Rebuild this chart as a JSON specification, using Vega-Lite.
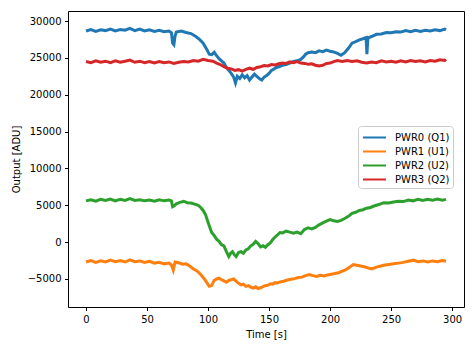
{
"$schema": "https://vega.github.io/schema/vega-lite/v6.json",
"width": 396, "height": 296,
"autosize": "none",
"padding": {"left": 68, "top": 11, "right": 11, "bottom": 40},
"background": "white",
"config": {
  "view": {"stroke": "black", "strokeWidth": 1},
  "font": "DejaVu Sans",
  "axis": {"domain": false, "grid": false, "tickColor": "black", "tickSize": 3.5, "labelColor": "#000000", "labelFontSize": 10, "labelFont": "DejaVu Sans", "titleFont": "DejaVu Sans", "titleFontSize": 10, "titleFontWeight": "normal", "titleColor": "#000000", "labelPadding": 3.5}
},
"datasets": {
"d": [
{"s":"PWR0 (Q1)","t":0,"v":28650},{"s":"PWR0 (Q1)","t":4,"v":28850},{"s":"PWR0 (Q1)","t":8,"v":28600},{"s":"PWR0 (Q1)","t":12,"v":28800},{"s":"PWR0 (Q1)","t":16,"v":28700},{"s":"PWR0 (Q1)","t":20,"v":28900},{"s":"PWR0 (Q1)","t":24,"v":28650},{"s":"PWR0 (Q1)","t":28,"v":28850},{"s":"PWR0 (Q1)","t":32,"v":28750},{"s":"PWR0 (Q1)","t":36,"v":29000},{"s":"PWR0 (Q1)","t":40,"v":28700},{"s":"PWR0 (Q1)","t":44,"v":28900},{"s":"PWR0 (Q1)","t":48,"v":28650},{"s":"PWR0 (Q1)","t":52,"v":28800},{"s":"PWR0 (Q1)","t":56,"v":28600},{"s":"PWR0 (Q1)","t":60,"v":28750},{"s":"PWR0 (Q1)","t":64,"v":28550},{"s":"PWR0 (Q1)","t":68,"v":28650},{"s":"PWR0 (Q1)","t":70,"v":28400},{"s":"PWR0 (Q1)","t":71,"v":27000},{"s":"PWR0 (Q1)","t":72,"v":26800},{"s":"PWR0 (Q1)","t":73,"v":28000},{"s":"PWR0 (Q1)","t":74,"v":28500},{"s":"PWR0 (Q1)","t":78,"v":28650},{"s":"PWR0 (Q1)","t":82,"v":28450},{"s":"PWR0 (Q1)","t":86,"v":28300},{"s":"PWR0 (Q1)","t":90,"v":27900},{"s":"PWR0 (Q1)","t":93,"v":27500},{"s":"PWR0 (Q1)","t":96,"v":27000},{"s":"PWR0 (Q1)","t":99,"v":26150},{"s":"PWR0 (Q1)","t":101,"v":25500},{"s":"PWR0 (Q1)","t":103,"v":25450},{"s":"PWR0 (Q1)","t":105,"v":25750},{"s":"PWR0 (Q1)","t":107,"v":25300},{"s":"PWR0 (Q1)","t":109,"v":24900},{"s":"PWR0 (Q1)","t":111,"v":24600},{"s":"PWR0 (Q1)","t":113,"v":24300},{"s":"PWR0 (Q1)","t":115,"v":23700},{"s":"PWR0 (Q1)","t":117,"v":23300},{"s":"PWR0 (Q1)","t":119,"v":22900},{"s":"PWR0 (Q1)","t":121,"v":22400},{"s":"PWR0 (Q1)","t":122.5,"v":21600},{"s":"PWR0 (Q1)","t":124,"v":22500},{"s":"PWR0 (Q1)","t":126,"v":22200},{"s":"PWR0 (Q1)","t":128,"v":22700},{"s":"PWR0 (Q1)","t":130,"v":22300},{"s":"PWR0 (Q1)","t":132,"v":22600},{"s":"PWR0 (Q1)","t":134,"v":22000},{"s":"PWR0 (Q1)","t":136,"v":22400},{"s":"PWR0 (Q1)","t":138,"v":22800},{"s":"PWR0 (Q1)","t":140,"v":22500},{"s":"PWR0 (Q1)","t":142,"v":22200},{"s":"PWR0 (Q1)","t":144,"v":22000},{"s":"PWR0 (Q1)","t":146,"v":22400},{"s":"PWR0 (Q1)","t":148,"v":22600},{"s":"PWR0 (Q1)","t":150,"v":22900},{"s":"PWR0 (Q1)","t":152,"v":23300},{"s":"PWR0 (Q1)","t":154,"v":23500},{"s":"PWR0 (Q1)","t":156,"v":23700},{"s":"PWR0 (Q1)","t":158,"v":23800},{"s":"PWR0 (Q1)","t":161,"v":24000},{"s":"PWR0 (Q1)","t":164,"v":24100},{"s":"PWR0 (Q1)","t":167,"v":24300},{"s":"PWR0 (Q1)","t":170,"v":24500},{"s":"PWR0 (Q1)","t":173,"v":24600},{"s":"PWR0 (Q1)","t":176,"v":24800},{"s":"PWR0 (Q1)","t":178,"v":25100},{"s":"PWR0 (Q1)","t":180,"v":25500},{"s":"PWR0 (Q1)","t":182,"v":25700},{"s":"PWR0 (Q1)","t":185,"v":25800},{"s":"PWR0 (Q1)","t":188,"v":25700},{"s":"PWR0 (Q1)","t":191,"v":25950},{"s":"PWR0 (Q1)","t":194,"v":25850},{"s":"PWR0 (Q1)","t":197,"v":26050},{"s":"PWR0 (Q1)","t":200,"v":25900},{"s":"PWR0 (Q1)","t":203,"v":25800},{"s":"PWR0 (Q1)","t":206,"v":25600},{"s":"PWR0 (Q1)","t":209,"v":25350},{"s":"PWR0 (Q1)","t":212,"v":25700},{"s":"PWR0 (Q1)","t":215,"v":26300},{"s":"PWR0 (Q1)","t":218,"v":27000},{"s":"PWR0 (Q1)","t":221,"v":27200},{"s":"PWR0 (Q1)","t":224,"v":27450},{"s":"PWR0 (Q1)","t":227,"v":27600},{"s":"PWR0 (Q1)","t":229.5,"v":27750},{"s":"PWR0 (Q1)","t":230.2,"v":25500},{"s":"PWR0 (Q1)","t":231,"v":27700},{"s":"PWR0 (Q1)","t":234,"v":27900},{"s":"PWR0 (Q1)","t":238,"v":28200},{"s":"PWR0 (Q1)","t":242,"v":28250},{"s":"PWR0 (Q1)","t":246,"v":28450},{"s":"PWR0 (Q1)","t":250,"v":28400},{"s":"PWR0 (Q1)","t":254,"v":28550},{"s":"PWR0 (Q1)","t":258,"v":28500},{"s":"PWR0 (Q1)","t":262,"v":28700},{"s":"PWR0 (Q1)","t":266,"v":28550},{"s":"PWR0 (Q1)","t":270,"v":28750},{"s":"PWR0 (Q1)","t":274,"v":28600},{"s":"PWR0 (Q1)","t":278,"v":28750},{"s":"PWR0 (Q1)","t":282,"v":28650},{"s":"PWR0 (Q1)","t":286,"v":28800},{"s":"PWR0 (Q1)","t":290,"v":28700},{"s":"PWR0 (Q1)","t":294,"v":28900},{"s":"PWR0 (Q1)","t":295,"v":28800},
{"s":"PWR1 (U1)","t":0,"v":-2700},{"s":"PWR1 (U1)","t":4,"v":-2500},{"s":"PWR1 (U1)","t":8,"v":-2750},{"s":"PWR1 (U1)","t":12,"v":-2550},{"s":"PWR1 (U1)","t":16,"v":-2700},{"s":"PWR1 (U1)","t":20,"v":-2450},{"s":"PWR1 (U1)","t":24,"v":-2650},{"s":"PWR1 (U1)","t":28,"v":-2500},{"s":"PWR1 (U1)","t":32,"v":-2700},{"s":"PWR1 (U1)","t":36,"v":-2400},{"s":"PWR1 (U1)","t":40,"v":-2650},{"s":"PWR1 (U1)","t":44,"v":-2550},{"s":"PWR1 (U1)","t":48,"v":-2750},{"s":"PWR1 (U1)","t":52,"v":-2600},{"s":"PWR1 (U1)","t":56,"v":-2850},{"s":"PWR1 (U1)","t":60,"v":-2750},{"s":"PWR1 (U1)","t":64,"v":-2950},{"s":"PWR1 (U1)","t":68,"v":-2850},{"s":"PWR1 (U1)","t":70,"v":-3100},{"s":"PWR1 (U1)","t":71.5,"v":-3800},{"s":"PWR1 (U1)","t":73,"v":-2700},{"s":"PWR1 (U1)","t":76,"v":-2800},{"s":"PWR1 (U1)","t":79,"v":-3000},{"s":"PWR1 (U1)","t":82,"v":-2950},{"s":"PWR1 (U1)","t":85,"v":-3250},{"s":"PWR1 (U1)","t":88,"v":-3650},{"s":"PWR1 (U1)","t":91,"v":-3900},{"s":"PWR1 (U1)","t":94,"v":-4400},{"s":"PWR1 (U1)","t":97,"v":-5000},{"s":"PWR1 (U1)","t":99,"v":-5500},{"s":"PWR1 (U1)","t":101,"v":-6000},{"s":"PWR1 (U1)","t":103,"v":-5900},{"s":"PWR1 (U1)","t":105,"v":-5200},{"s":"PWR1 (U1)","t":107,"v":-5000},{"s":"PWR1 (U1)","t":109,"v":-4900},{"s":"PWR1 (U1)","t":111,"v":-5100},{"s":"PWR1 (U1)","t":113,"v":-5250},{"s":"PWR1 (U1)","t":115,"v":-5450},{"s":"PWR1 (U1)","t":117,"v":-5200},{"s":"PWR1 (U1)","t":119,"v":-5100},{"s":"PWR1 (U1)","t":121,"v":-5000},{"s":"PWR1 (U1)","t":123,"v":-5300},{"s":"PWR1 (U1)","t":125,"v":-5600},{"s":"PWR1 (U1)","t":127,"v":-5800},{"s":"PWR1 (U1)","t":129,"v":-5700},{"s":"PWR1 (U1)","t":131,"v":-6000},{"s":"PWR1 (U1)","t":133,"v":-5900},{"s":"PWR1 (U1)","t":135,"v":-6100},{"s":"PWR1 (U1)","t":137,"v":-6250},{"s":"PWR1 (U1)","t":139,"v":-6050},{"s":"PWR1 (U1)","t":141,"v":-6300},{"s":"PWR1 (U1)","t":143,"v":-6200},{"s":"PWR1 (U1)","t":145,"v":-6050},{"s":"PWR1 (U1)","t":147,"v":-5900},{"s":"PWR1 (U1)","t":149,"v":-5850},{"s":"PWR1 (U1)","t":151,"v":-5650},{"s":"PWR1 (U1)","t":153,"v":-5700},{"s":"PWR1 (U1)","t":155,"v":-5500},{"s":"PWR1 (U1)","t":157,"v":-5550},{"s":"PWR1 (U1)","t":159,"v":-5400},{"s":"PWR1 (U1)","t":162,"v":-5300},{"s":"PWR1 (U1)","t":165,"v":-5150},{"s":"PWR1 (U1)","t":168,"v":-5050},{"s":"PWR1 (U1)","t":171,"v":-4950},{"s":"PWR1 (U1)","t":174,"v":-4800},{"s":"PWR1 (U1)","t":177,"v":-4750},{"s":"PWR1 (U1)","t":180,"v":-4550},{"s":"PWR1 (U1)","t":183,"v":-4400},{"s":"PWR1 (U1)","t":186,"v":-4550},{"s":"PWR1 (U1)","t":189,"v":-4650},{"s":"PWR1 (U1)","t":192,"v":-4500},{"s":"PWR1 (U1)","t":195,"v":-4600},{"s":"PWR1 (U1)","t":198,"v":-4450},{"s":"PWR1 (U1)","t":201,"v":-4350},{"s":"PWR1 (U1)","t":204,"v":-4250},{"s":"PWR1 (U1)","t":207,"v":-4150},{"s":"PWR1 (U1)","t":210,"v":-3950},{"s":"PWR1 (U1)","t":213,"v":-3750},{"s":"PWR1 (U1)","t":216,"v":-3400},{"s":"PWR1 (U1)","t":219,"v":-3050},{"s":"PWR1 (U1)","t":222,"v":-3150},{"s":"PWR1 (U1)","t":225,"v":-3250},{"s":"PWR1 (U1)","t":228,"v":-3350},{"s":"PWR1 (U1)","t":231,"v":-3500},{"s":"PWR1 (U1)","t":234,"v":-3650},{"s":"PWR1 (U1)","t":237,"v":-3450},{"s":"PWR1 (U1)","t":240,"v":-3300},{"s":"PWR1 (U1)","t":244,"v":-3150},{"s":"PWR1 (U1)","t":248,"v":-3050},{"s":"PWR1 (U1)","t":252,"v":-2950},{"s":"PWR1 (U1)","t":256,"v":-2850},{"s":"PWR1 (U1)","t":260,"v":-2750},{"s":"PWR1 (U1)","t":264,"v":-2600},{"s":"PWR1 (U1)","t":268,"v":-2450},{"s":"PWR1 (U1)","t":272,"v":-2650},{"s":"PWR1 (U1)","t":276,"v":-2550},{"s":"PWR1 (U1)","t":280,"v":-2700},{"s":"PWR1 (U1)","t":284,"v":-2550},{"s":"PWR1 (U1)","t":288,"v":-2650},{"s":"PWR1 (U1)","t":292,"v":-2500},{"s":"PWR1 (U1)","t":295,"v":-2600},
{"s":"PWR2 (U2)","t":0,"v":5600},{"s":"PWR2 (U2)","t":4,"v":5750},{"s":"PWR2 (U2)","t":8,"v":5550},{"s":"PWR2 (U2)","t":12,"v":5800},{"s":"PWR2 (U2)","t":16,"v":5650},{"s":"PWR2 (U2)","t":20,"v":5850},{"s":"PWR2 (U2)","t":24,"v":5600},{"s":"PWR2 (U2)","t":28,"v":5800},{"s":"PWR2 (U2)","t":32,"v":5650},{"s":"PWR2 (U2)","t":36,"v":5900},{"s":"PWR2 (U2)","t":40,"v":5650},{"s":"PWR2 (U2)","t":44,"v":5750},{"s":"PWR2 (U2)","t":48,"v":5600},{"s":"PWR2 (U2)","t":52,"v":5700},{"s":"PWR2 (U2)","t":56,"v":5550},{"s":"PWR2 (U2)","t":60,"v":5750},{"s":"PWR2 (U2)","t":64,"v":5600},{"s":"PWR2 (U2)","t":68,"v":5700},{"s":"PWR2 (U2)","t":70,"v":5600},{"s":"PWR2 (U2)","t":71,"v":4800},{"s":"PWR2 (U2)","t":72,"v":4900},{"s":"PWR2 (U2)","t":74,"v":5200},{"s":"PWR2 (U2)","t":77,"v":5400},{"s":"PWR2 (U2)","t":80,"v":5550},{"s":"PWR2 (U2)","t":83,"v":5350},{"s":"PWR2 (U2)","t":86,"v":5300},{"s":"PWR2 (U2)","t":89,"v":5150},{"s":"PWR2 (U2)","t":92,"v":5000},{"s":"PWR2 (U2)","t":94,"v":4700},{"s":"PWR2 (U2)","t":96,"v":4300},{"s":"PWR2 (U2)","t":98,"v":3700},{"s":"PWR2 (U2)","t":100,"v":2700},{"s":"PWR2 (U2)","t":101.5,"v":2000},{"s":"PWR2 (U2)","t":103,"v":1300},{"s":"PWR2 (U2)","t":105,"v":900},{"s":"PWR2 (U2)","t":107,"v":400},{"s":"PWR2 (U2)","t":109,"v":100},{"s":"PWR2 (U2)","t":111,"v":-350},{"s":"PWR2 (U2)","t":113,"v":-500},{"s":"PWR2 (U2)","t":115,"v":-1250},{"s":"PWR2 (U2)","t":117,"v":-1950},{"s":"PWR2 (U2)","t":118.5,"v":-1500},{"s":"PWR2 (U2)","t":120,"v":-1300},{"s":"PWR2 (U2)","t":121.5,"v":-1700},{"s":"PWR2 (U2)","t":123,"v":-1950},{"s":"PWR2 (U2)","t":125,"v":-1400},{"s":"PWR2 (U2)","t":127,"v":-1300},{"s":"PWR2 (U2)","t":129,"v":-1500},{"s":"PWR2 (U2)","t":131,"v":-1050},{"s":"PWR2 (U2)","t":133,"v":-900},{"s":"PWR2 (U2)","t":135,"v":-500},{"s":"PWR2 (U2)","t":137,"v":-300},{"s":"PWR2 (U2)","t":139,"v":100},{"s":"PWR2 (U2)","t":141,"v":-200},{"s":"PWR2 (U2)","t":143,"v":-650},{"s":"PWR2 (U2)","t":145,"v":-500},{"s":"PWR2 (U2)","t":147,"v":-700},{"s":"PWR2 (U2)","t":149,"v":-350},{"s":"PWR2 (U2)","t":151,"v":-100},{"s":"PWR2 (U2)","t":153,"v":350},{"s":"PWR2 (U2)","t":155,"v":700},{"s":"PWR2 (U2)","t":157,"v":1000},{"s":"PWR2 (U2)","t":159,"v":1300},{"s":"PWR2 (U2)","t":161,"v":1250},{"s":"PWR2 (U2)","t":164,"v":1500},{"s":"PWR2 (U2)","t":167,"v":1350},{"s":"PWR2 (U2)","t":170,"v":1200},{"s":"PWR2 (U2)","t":173,"v":1350},{"s":"PWR2 (U2)","t":176,"v":1150},{"s":"PWR2 (U2)","t":179,"v":1700},{"s":"PWR2 (U2)","t":182,"v":1950},{"s":"PWR2 (U2)","t":185,"v":1800},{"s":"PWR2 (U2)","t":188,"v":2000},{"s":"PWR2 (U2)","t":191,"v":2350},{"s":"PWR2 (U2)","t":194,"v":2600},{"s":"PWR2 (U2)","t":197,"v":2850},{"s":"PWR2 (U2)","t":200,"v":3050},{"s":"PWR2 (U2)","t":203,"v":2900},{"s":"PWR2 (U2)","t":206,"v":2800},{"s":"PWR2 (U2)","t":209,"v":2950},{"s":"PWR2 (U2)","t":212,"v":3200},{"s":"PWR2 (U2)","t":215,"v":3500},{"s":"PWR2 (U2)","t":218,"v":3900},{"s":"PWR2 (U2)","t":221,"v":4050},{"s":"PWR2 (U2)","t":224,"v":4300},{"s":"PWR2 (U2)","t":227,"v":4400},{"s":"PWR2 (U2)","t":230,"v":4600},{"s":"PWR2 (U2)","t":233,"v":4700},{"s":"PWR2 (U2)","t":236,"v":4900},{"s":"PWR2 (U2)","t":240,"v":5100},{"s":"PWR2 (U2)","t":244,"v":5350},{"s":"PWR2 (U2)","t":248,"v":5300},{"s":"PWR2 (U2)","t":252,"v":5450},{"s":"PWR2 (U2)","t":256,"v":5550},{"s":"PWR2 (U2)","t":260,"v":5500},{"s":"PWR2 (U2)","t":264,"v":5700},{"s":"PWR2 (U2)","t":268,"v":5600},{"s":"PWR2 (U2)","t":272,"v":5800},{"s":"PWR2 (U2)","t":276,"v":5650},{"s":"PWR2 (U2)","t":280,"v":5800},{"s":"PWR2 (U2)","t":284,"v":5700},{"s":"PWR2 (U2)","t":288,"v":5850},{"s":"PWR2 (U2)","t":292,"v":5700},{"s":"PWR2 (U2)","t":295,"v":5800},
{"s":"PWR3 (Q2)","t":0,"v":24500},{"s":"PWR3 (Q2)","t":4,"v":24350},{"s":"PWR3 (Q2)","t":8,"v":24600},{"s":"PWR3 (Q2)","t":12,"v":24400},{"s":"PWR3 (Q2)","t":16,"v":24550},{"s":"PWR3 (Q2)","t":20,"v":24350},{"s":"PWR3 (Q2)","t":24,"v":24600},{"s":"PWR3 (Q2)","t":28,"v":24400},{"s":"PWR3 (Q2)","t":32,"v":24550},{"s":"PWR3 (Q2)","t":36,"v":24700},{"s":"PWR3 (Q2)","t":40,"v":24400},{"s":"PWR3 (Q2)","t":44,"v":24550},{"s":"PWR3 (Q2)","t":48,"v":24350},{"s":"PWR3 (Q2)","t":52,"v":24500},{"s":"PWR3 (Q2)","t":56,"v":24300},{"s":"PWR3 (Q2)","t":60,"v":24500},{"s":"PWR3 (Q2)","t":64,"v":24350},{"s":"PWR3 (Q2)","t":68,"v":24450},{"s":"PWR3 (Q2)","t":72,"v":24250},{"s":"PWR3 (Q2)","t":76,"v":24400},{"s":"PWR3 (Q2)","t":80,"v":24500},{"s":"PWR3 (Q2)","t":84,"v":24450},{"s":"PWR3 (Q2)","t":88,"v":24650},{"s":"PWR3 (Q2)","t":92,"v":24550},{"s":"PWR3 (Q2)","t":96,"v":24800},{"s":"PWR3 (Q2)","t":100,"v":24650},{"s":"PWR3 (Q2)","t":104,"v":24550},{"s":"PWR3 (Q2)","t":107,"v":24300},{"s":"PWR3 (Q2)","t":110,"v":24100},{"s":"PWR3 (Q2)","t":113,"v":23800},{"s":"PWR3 (Q2)","t":116,"v":23600},{"s":"PWR3 (Q2)","t":119,"v":23500},{"s":"PWR3 (Q2)","t":122,"v":23300},{"s":"PWR3 (Q2)","t":125,"v":23400},{"s":"PWR3 (Q2)","t":128,"v":23200},{"s":"PWR3 (Q2)","t":131,"v":23450},{"s":"PWR3 (Q2)","t":134,"v":23600},{"s":"PWR3 (Q2)","t":137,"v":23450},{"s":"PWR3 (Q2)","t":140,"v":23700},{"s":"PWR3 (Q2)","t":143,"v":23800},{"s":"PWR3 (Q2)","t":146,"v":23950},{"s":"PWR3 (Q2)","t":149,"v":23900},{"s":"PWR3 (Q2)","t":152,"v":24100},{"s":"PWR3 (Q2)","t":155,"v":24050},{"s":"PWR3 (Q2)","t":158,"v":24200},{"s":"PWR3 (Q2)","t":161,"v":24300},{"s":"PWR3 (Q2)","t":164,"v":24250},{"s":"PWR3 (Q2)","t":167,"v":24450},{"s":"PWR3 (Q2)","t":170,"v":24350},{"s":"PWR3 (Q2)","t":173,"v":24500},{"s":"PWR3 (Q2)","t":176,"v":24300},{"s":"PWR3 (Q2)","t":179,"v":24250},{"s":"PWR3 (Q2)","t":182,"v":24150},{"s":"PWR3 (Q2)","t":185,"v":24200},{"s":"PWR3 (Q2)","t":188,"v":24000},{"s":"PWR3 (Q2)","t":191,"v":23900},{"s":"PWR3 (Q2)","t":194,"v":24000},{"s":"PWR3 (Q2)","t":197,"v":24250},{"s":"PWR3 (Q2)","t":200,"v":24300},{"s":"PWR3 (Q2)","t":203,"v":24500},{"s":"PWR3 (Q2)","t":206,"v":24650},{"s":"PWR3 (Q2)","t":210,"v":24500},{"s":"PWR3 (Q2)","t":214,"v":24650},{"s":"PWR3 (Q2)","t":218,"v":24500},{"s":"PWR3 (Q2)","t":222,"v":24600},{"s":"PWR3 (Q2)","t":226,"v":24400},{"s":"PWR3 (Q2)","t":230,"v":24300},{"s":"PWR3 (Q2)","t":234,"v":24450},{"s":"PWR3 (Q2)","t":238,"v":24350},{"s":"PWR3 (Q2)","t":242,"v":24600},{"s":"PWR3 (Q2)","t":246,"v":24450},{"s":"PWR3 (Q2)","t":250,"v":24550},{"s":"PWR3 (Q2)","t":254,"v":24400},{"s":"PWR3 (Q2)","t":258,"v":24600},{"s":"PWR3 (Q2)","t":262,"v":24450},{"s":"PWR3 (Q2)","t":266,"v":24650},{"s":"PWR3 (Q2)","t":270,"v":24500},{"s":"PWR3 (Q2)","t":274,"v":24600},{"s":"PWR3 (Q2)","t":278,"v":24450},{"s":"PWR3 (Q2)","t":282,"v":24650},{"s":"PWR3 (Q2)","t":286,"v":24550},{"s":"PWR3 (Q2)","t":290,"v":24750},{"s":"PWR3 (Q2)","t":294,"v":24650},{"s":"PWR3 (Q2)","t":295,"v":24800}
]
},
"data": {"name": "d"},
"mark": {"type": "line", "strokeWidth": 3, "clip": true},
"encoding": {
  "x": {"field": "t", "type": "quantitative", "scale": {"domain": [-14.75, 309.75], "nice": false, "zero": false}, "axis": {"values": [0, 50, 100, 150, 200, 250, 300], "title": "Time [s]", "titlePadding": 5}},
  "y": {"field": "v", "type": "quantitative", "scale": {"domain": [-8804, 31360], "nice": false, "zero": false}, "axis": {"values": [-5000, 0, 5000, 10000, 15000, 20000, 25000, 30000], "title": "Output [ADU]", "titlePadding": 6, "labelExpr": "replace(datum.label, '-', '\u2212')", "format": "d"}},
  "color": {"field": "s", "type": "nominal", "scale": {"domain": ["PWR0 (Q1)", "PWR1 (U1)", "PWR2 (U2)", "PWR3 (Q2)"], "range": ["#1f77b4", "#ff7f0e", "#2ca02c", "#d62728"]}, "legend": {"title": null, "orient": "none", "legendX": 290, "legendY": 115, "symbolType": "M-0.87,0H2.2", "symbolStrokeWidth": 2, "symbolSize": 225, "symbolFillColor": "transparent", "labelFontSize": 10, "labelFont": "DejaVu Sans", "labelColor": "#000000", "padding": 3, "rowPadding": 0, "strokeColor": "#cccccc", "fillColor": "white", "cornerRadius": 3, "labelOffset": 17}}
}
}
